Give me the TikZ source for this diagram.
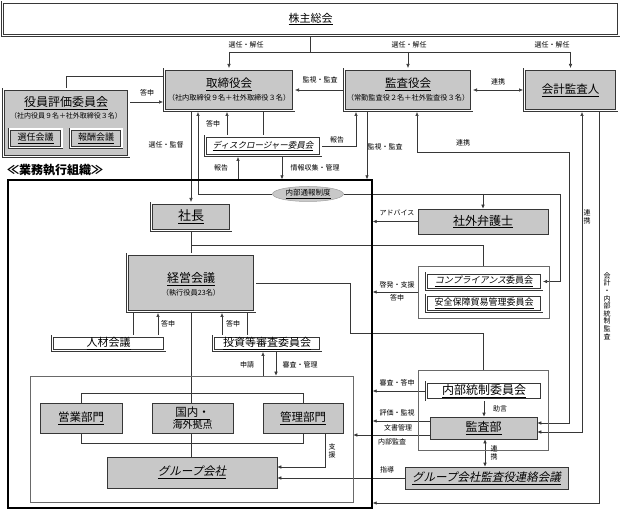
\documentclass[tikz,border=0pt]{standalone}
\usepackage{fontspec}
\setmainfont{Noto Sans CJK JP}
\newfontfamily\jpit{Noto Sans CJK JP}[FakeSlant=0.22]
\usetikzlibrary{arrows.meta,shapes.geometric,backgrounds}
\definecolor{boxgray}{RGB}{200,200,200}
\definecolor{lc}{RGB}{55,55,55}
\newcommand{\fsz}[1]{\fontsize{#1}{#1}\selectfont}
\begin{document}
\begin{tikzpicture}[x=1pt,y=-1pt,
  every node/.style={inner sep=0pt, text=black},
  ln/.style={draw=lc, line width=0.6pt},
  arr/.style={ln, -{Latex[length=4pt,width=3.6pt]}},
  barr/.style={ln, {Latex[length=4pt,width=3.6pt]}-{Latex[length=4pt,width=3.6pt]}},
  sz/.style 2 args={minimum width=#1, minimum height=#2},
  dbox/.style={rectangle, draw=lc, line width=0.5pt, double=white, double distance=1.6pt, outer sep=1.3pt},
  dboxg/.style={dbox, fill=boxgray},
  sbox/.style={rectangle, draw=lc, line width=0.6pt, fill=boxgray},
  gbox/.style={rectangle, draw=lc!75, line width=0.6pt},
  lbl/.style={font=\fsz{7}},
  vlbl/.style={align=center, font=\fontsize{7}{8.2}\selectfont},
]
\useasboundingbox (0,0) rectangle (621,510);

% ---------- top level ----------
\node[dbox, sz={616.4}{33.4}] (kabu) at (310.5,19) {\fsz{11}\underline{株主総会}};

\node[dboxg, sz={129.4}{41.4}] (tori) at (229,90) {};
\node (toriT) at (229,84.5) {\fsz{11.5}\underline{取締役会}};
\node (toriS) at (229,98) {\fsz{7.2}（社内取締役９名＋社外取締役３名）};

\node[dboxg, sz={127.4}{41.4}] (kansa) at (408,90) {};
\node (kansaT) at (408,84.5) {\fsz{11.5}\underline{監査役会}};
\node (kansaS) at (408,98) {\fsz{7.2}（常勤監査役２名＋社外監査役３名）};

\node[dboxg, sz={92.4}{41.4}] (kaikei) at (570.5,90) {\fsz{11.5}\underline{会計監査人}};

\node[dboxg, sz={125.4}{67.4}] (yakuin) at (66,123) {};
\node (yakuinT) at (66,103) {\fsz{12}\underline{役員評価委員会}};
\node (yakuinS) at (66,115.5) {\fsz{7}（社内役員９名＋社外取締役３名）};
\node[dboxg, sz={52.4}{18.4}] (senin) at (35.5,138.5) {\fsz{9}\underline{選任会議}};
\node[dboxg, sz={51.4}{18.4}] (hoshu) at (96,138.5) {\fsz{9}\underline{報酬会議}};

\node[dbox, sz={115.4}{19.4}] (disc) at (263,146) {{\jpit\fsz{8.5}\underline{ディスクロージャー委員会}}};

\node (gyomuL) at (55,170) {\fsz{12}\bfseries ≪業務執行組織≫};
\node[rectangle, draw=black, line width=1.4pt, sz={364}{328}] (gyomu) at (190,344) {};

\node[ellipse, draw=boxgray!80!black, fill=boxgray, line width=0.5pt, sz={71}{15}] (naibu) at (308,194) {\fsz{7.5}\underline{内部通報制度}};

% ---------- execution organisation ----------
\node[dboxg, sz={79.4}{27.4}] (shacho) at (191,217) {\fsz{13}\underline{社長}};
\node[sbox, sz={130}{25}] (bengoshi) at (483,221.5) {\fsz{12}\underline{社外弁護士}};

\node[dboxg, sz={127.4}{57.4}] (keiei) at (191,283) {};
\node (keieiT) at (191,279) {\fsz{12}\underline{経営会議}};
\node (keieiS) at (191,292.5) {\fsz{7.2}（執行役員23名）};

\node[gbox, sz={131}{52}] (compg) at (483.5,292) {};
\node[dbox, sz={115.4}{16.4}] (comp1) at (484,281.5) {\fsz{9}\underline{{\jpit コンプライアンス}委員会}};
\node[dbox, sz={115.4}{16.4}] (comp2) at (484,303.5) {\fsz{9}\underline{安全保障貿易管理委員会}};

\node[dbox, sz={112.4}{14.4}] (jinzai) at (108.5,343.5) {\fsz{11}\underline{人材会議}};
\node[dbox, sz={107.4}{14.4}] (toshi) at (267,343.5) {\fsz{11}\underline{投資等審査委員会}};

\node[gbox, sz={323}{126}] (ing) at (191.5,439) {};
\node[sbox, sz={82}{30}] (eigyo) at (81,418) {\fsz{11.5}\underline{営業部門}};
\node[sbox, sz={81}{30}, align=center] (kokunai) at (192.5,418) {\fontsize{11.5}{13.5}\selectfont\underline{国内・}\\海外拠点};
\node[sbox, sz={80}{30}] (kanri) at (303,418) {\fsz{11.5}\underline{管理部門}};
\node[sbox, sz={170}{31}] (group) at (192,472.5) {{\jpit\fsz{11.5}\underline{グループ会社}}};

\node[gbox, sz={130}{80}] (ntg) at (483,410) {};
\node[dbox, sz={115.4}{17.4}] (ntc) at (484,391) {\fsz{12}\underline{内部統制委員会}};
\node[sbox, sz={107}{22}] (kansabu) at (483.5,428) {\fsz{12}\underline{監査部}};
\node[sbox, sz={163}{22}] (gkr) at (486.5,478) {{\jpit\fsz{11.5}\underline{グループ会社監査役連絡会議}}};

% ---------- helper coordinates ----------
\coordinate (j0) at (310,52);
\coordinate (y76) at (0,76);
\coordinate (y102) at (0,102);
\coordinate (y152) at (0,152);
\coordinate (y245) at (0,245);
\coordinate (y333) at (0,333);
\coordinate (y393) at (0,393);
\coordinate (y421) at (0,421);
\coordinate (y423) at (0,423);
\coordinate (y432) at (0,432);
\coordinate (y435) at (0,435);
\coordinate (y443) at (0,443);
\coordinate (y467) at (0,467);
\coordinate (y503) at (0,503);
\coordinate (x133) at (133,0);
\coordinate (x158) at (158,0);
\coordinate (x191) at (191,0);
\coordinate (x198) at (198,0);
\coordinate (x222) at (222,0);
\coordinate (x227) at (227,0);
\coordinate (x238) at (238,0);
\coordinate (x247) at (247,0);
\coordinate (x263) at (263,0);
\coordinate (x276) at (276,0);
\coordinate (x282) at (282,0);
\coordinate (x325) at (325,0);
\coordinate (x350) at (350,0);
\coordinate (x356) at (356,0);
\coordinate (x367) at (367,0);
\coordinate (x417) at (417,0);
\coordinate (x485) at (485,0);
\coordinate (x560) at (560,0);
\coordinate (x569) at (569,0);
\coordinate (x582) at (582,0);
\coordinate (x599) at (599,0);

% ---------- connectors ----------
\begin{pgfonlayer}{background}
\draw[ln] (kabu.south -| j0) -- (j0);
\draw[ln] (tori.north |- j0) -- (kaikei.north |- j0);
\draw[arr] (tori.north |- j0) -- (tori.north);
\draw[arr] (kansa.north |- j0) -- (kansa.north);
\draw[arr] (kaikei.north |- j0) -- (kaikei.north);
\draw[ln] (yakuin.north) |- (tori.west |- y76);
\draw[arr] (yakuin.east |- y102) -- (tori.west |- y102);
\draw[arr] (kansa.west) -- (tori.east);
\draw[barr] (kansa.east) -- (kaikei.west);
\draw[arr] (tori.south -| x191) -- (shacho.north -| x191);
\draw[arr] (naibu.west) -| (tori.south -| x198);
\draw[arr] (naibu.east) -| (x560 |- comp1.east) -- (comp1.east);
\draw[arr] (naibu.east -| bengoshi.north) -- (bengoshi.north);
\draw[arr] (disc.north -| x227) -- (tori.south -| x227);
\draw[ln] (tori.south -| disc.north) -- (disc.north);
\draw[arr] (disc.east) -| (kansa.south -| x356);
\draw[arr] (gyomu.north -| x238) -- (disc.south -| x238);
\draw[arr] (disc.south -| x282) -- (gyomu.north -| x282);
\draw[arr] (kansa.south -| x367) -- (gyomu.north -| x367);
\draw[barr] (kansabu.east |- y423) -- (x569 |- y423) -- (x569 |- y152) -- (x417 |- y152) -- (kansa.south -| x417);
\draw[barr] (kansabu.east |- y432) -| (kaikei.south -| x582);
\draw[arr] (kaikei.south -| x599) |- (gyomu.east |- y503);
\draw[ln] (shacho.south -| x191) -- (keiei.north -| x191);
\draw[ln] (x191 |- y245) -| (compg.north);
\draw[arr] (bengoshi.west) -- (gyomu.east |- bengoshi.west);
\draw[arr] (compg.west) -- (gyomu.east |- compg.west);
\draw[ln] (keiei.east) -| (x350 |- y333) -| (ntg.north);
\draw[ln] (jinzai.north -| x133) -- (keiei.south -| x133);
\draw[arr] (jinzai.north -| x158) -- (keiei.south -| x158);
\draw[arr] (toshi.north -| x222) -- (keiei.south -| x222);
\draw[ln] (toshi.north -| x247) -- (keiei.south -| x247);
\draw[arr] (ing.north -| x263) -- (toshi.south -| x263);
\draw[arr] (toshi.south -| x276) -- (ing.north -| x276);
\draw[ln] (keiei.south -| x191) -- (group.north -| x191);
\draw[ln] (eigyo.north) |- (kanri.north |- y393) -- (kanri.north);
\draw[ln] (eigyo.south) |- (kanri.south |- y443) -- (kanri.south);
\draw[arr] (kanri.south -| x325) |- (group.east |- y467);
\draw[arr] (ntc.south) -- (ntc.south |- kansabu.north);
\draw[arr] (ntc.west) -- (gyomu.east |- ntc.west);
\draw[arr] (kansabu.west |- y421) -- (gyomu.east |- y421);
\draw[arr] (kansabu.west |- y435) -- (ing.east |- y435);
\draw[barr] (kansabu.south -| x485) -- (gkr.north -| x485);
\draw[arr] (gkr.west) -- (group.east |- gkr.west);
\end{pgfonlayer}

% ---------- labels ----------
\node[lbl] (l1) at (246,45) {選任・解任};
\node[lbl] (l2) at (409,45) {選任・解任};
\node[lbl] (l3) at (552,45) {選任・解任};
\node[lbl] (l4) at (147,93) {答申};
\node[lbl] (l5) at (320,80) {監視・監査};
\node[lbl] (l6) at (498,82) {連携};
\node[lbl] (l7) at (166,145) {選任・監督};
\node[lbl] (l8) at (213,124) {答申};
\node[lbl] (l9) at (337,140) {報告};
\node[lbl] (l10) at (385,147) {監視・監査};
\node[lbl] (l11) at (463,143) {連携};
\node[lbl] (l12) at (221,168) {報告};
\node[lbl] (l13) at (315,168) {情報収集・管理};
\node[vlbl] (l14) at (587,217) {連\\携};
\node[align=center, font=\fontsize{7}{7.6}\selectfont] (l15) at (607,306) {会\\計\\・\\内\\部\\統\\制\\監\\査};
\node[lbl] (l16) at (397,213) {アドバイス};
\node[lbl] (l17) at (397,285) {啓発・支援};
\node[lbl] (l18) at (397,298) {答申};
\node[lbl] (l19) at (168,324) {答申};
\node[lbl] (l20) at (233,324) {答申};
\node[lbl] (l21) at (247,365) {申請};
\node[lbl] (l22) at (300,365) {審査・管理};
\node[lbl] (l23) at (397,383) {審査・答申};
\node[lbl] (l24) at (500,409) {助言};
\node[lbl] (l25) at (397,413) {評価・監視};
\node[lbl] (l26) at (398,428) {文書管理};
\node[lbl] (l27) at (392,442) {内部監査};
\node[vlbl] (l28) at (332,451) {支\\援};
\node[vlbl] (l29) at (494,453) {連\\携};
\node[lbl] (l30) at (387,470) {指導};
\end{tikzpicture}
\end{document}
